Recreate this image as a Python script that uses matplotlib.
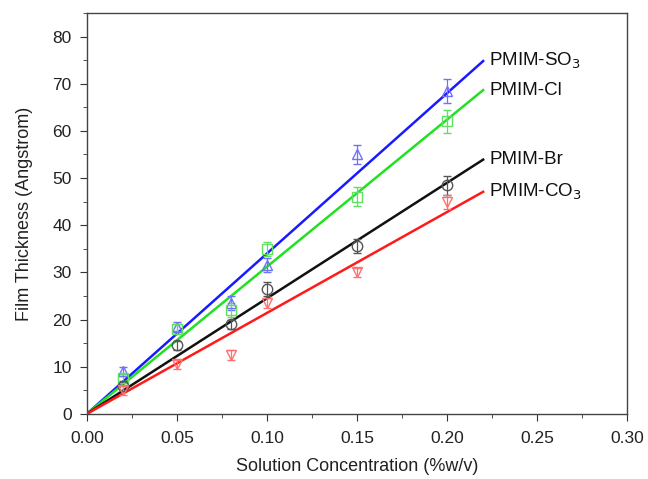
import matplotlib
matplotlib.use("Agg")
import matplotlib.pyplot as plt
import numpy as np
from matplotlib.ticker import MultipleLocator

plt.rcParams['font.family'] = ['Liberation Sans', 'DejaVu Sans']

conc = [0.02, 0.05, 0.08, 0.10, 0.15, 0.20]

so3 = [9.0, 18.5, 23.5, 31.5, 55.0, 68.5]
so3_err = [1.0, 1.0, 1.5, 1.5, 2.0, 2.5]
cl = [7.5, 18.0, 22.0, 35.0, 46.0, 62.0]
cl_err = [1.0, 1.0, 1.5, 1.5, 2.0, 2.5]
br = [6.0, 14.5, 19.0, 26.5, 35.5, 48.5]
br_err = [1.0, 1.0, 1.0, 1.5, 1.5, 2.0]
co3 = [5.0, 10.5, 12.5, 23.5, 30.0, 45.0]
co3_err = [1.0, 1.0, 1.0, 1.0, 1.0, 1.5]

# fitted slopes (Angstrom per %w/v), lines through origin up to 0.22
fit_x_end = 0.22
slopes = {'so3': 340.0, 'cl': 312.0, 'br': 245.0, 'co3': 214.0}

labels = {'so3': 'PMIM-SO$_3$', 'cl': 'PMIM-Cl', 'br': 'PMIM-Br', 'co3': 'PMIM-CO$_3$'}

fig = plt.figure(figsize=(6.48, 4.79), dpi=100)
ax = fig.add_axes([0.134, 0.136, 0.834, 0.837])

series = [
    ('so3', so3, so3_err, '^', '#1a1aff', '#7070ff'),
    ('cl', cl, cl_err, 's', '#22e022', '#60e060'),
    ('br', br, br_err, 'o', '#111111', '#555555'),
    ('co3', co3, co3_err, 'v', '#ff1a1a', '#ff7070'),
]

for key, ys, es, mk, lc, mc in series:
    xf = np.array([0.0, fit_x_end])
    ax.plot(xf, slopes[key] * xf, color=lc, lw=1.8, zorder=3)
    ax.errorbar(conc, ys, yerr=es, fmt=mk, mfc='none', mec=mc, ms=7.5, mew=1.0,
                ecolor=mc, elinewidth=0.9, capsize=3, capthick=0.9, zorder=4)
    ax.text(0.2235, slopes[key] * fit_x_end, labels[key], fontsize=13.5,
            va='center', ha='left', color='#111111')

ax.set_xlim(0, 0.30)
ax.set_ylim(0, 85)
ax.xaxis.set_major_locator(MultipleLocator(0.05))
ax.xaxis.set_minor_locator(MultipleLocator(0.025))
ax.yaxis.set_major_locator(MultipleLocator(10))
ax.yaxis.set_minor_locator(MultipleLocator(5))
ax.xaxis.set_major_formatter(matplotlib.ticker.FormatStrFormatter('%.2f'))
ax.tick_params(which='both', direction='out', labelsize=12.5, top=False, right=False,
               colors='#333333', labelcolor='#222222')
ax.tick_params(axis='x', which='major', length=5, pad=7)
ax.tick_params(axis='y', which='major', length=5, pad=6)
ax.tick_params(which='minor', length=3)
for s in ax.spines.values():
    s.set_linewidth(1.0)
    s.set_color('#444444')

ax.set_xlabel('Solution Concentration (%w/v)', fontsize=13, labelpad=9, color='#222222')
ax.set_ylabel('Film Thickness (Angstrom)', fontsize=13, labelpad=14, color='#222222')

fig.savefig('out.png', dpi=100)
